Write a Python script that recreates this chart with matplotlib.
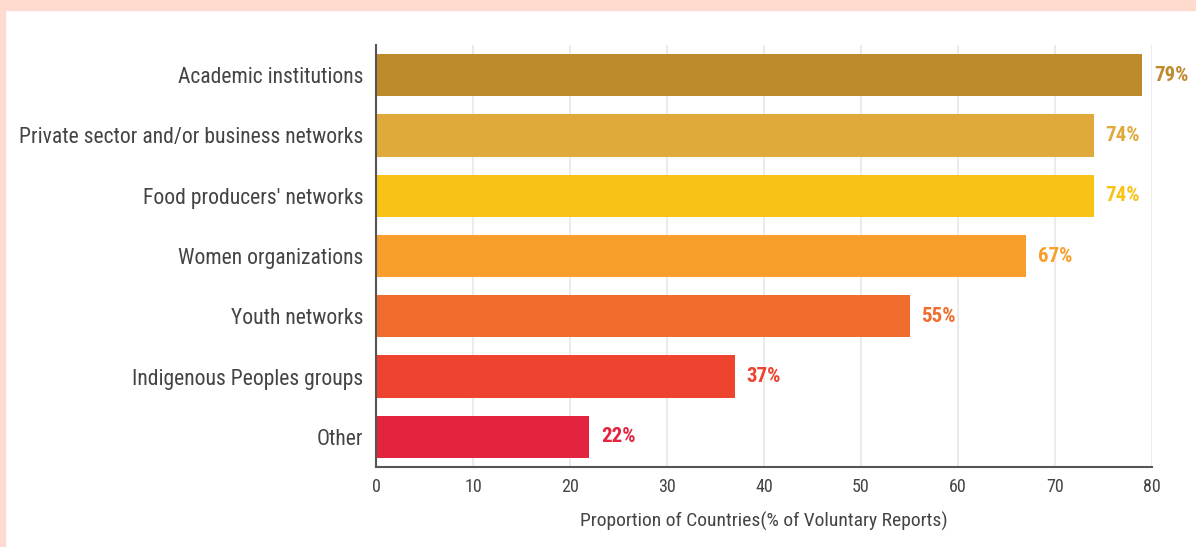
import matplotlib
matplotlib.use("Agg")
import matplotlib.pyplot as plt
from matplotlib.patches import Rectangle

categories = [
    "Academic institutions",
    "Private sector and/or business networks",
    "Food producers' networks",
    "Women organizations",
    "Youth networks",
    "Indigenous Peoples groups",
    "Other",
]
values = [79, 74, 74, 67, 55, 37, 22]
colors = ["#BE8B2C", "#E0A93C", "#F9C216", "#F89E2A", "#F06C2E", "#EE432E", "#E3243F"]
xticks = [0, 10, 20, 30, 40, 50, 60, 70, 80]

plt.rcParams["font.family"] = ["Roboto Condensed", "DejaVu Sans"]

fig = plt.figure(figsize=(11.96, 5.47), dpi=100)
fig.patch.set_facecolor("white")
# peach frame along the top and left edges
fig.patches.append(Rectangle((0, 1 - 10 / 547), 1, 10 / 547, transform=fig.transFigure,
                             color="#FFDBCF", zorder=0))
fig.patches.append(Rectangle((0, 0), 5 / 1196, 1, transform=fig.transFigure,
                             color="#FFDBCF", zorder=0))

ax = fig.add_axes([376 / 1196, 1 - 467 / 547, 776 / 1196, 422 / 547])
y = range(len(categories))
ax.barh(y, values, height=0.7, color=colors, zorder=2)

for yi, v, c in zip(y, values, colors):
    ax.text(v + 1.2, yi, f"{v}%", va="center", ha="left", color=c,
            fontsize=15, fontweight="bold")

ax.set_xlim(0, 80)
ax.set_ylim(len(categories) - 0.5, -0.5)
ax.set_xticks(xticks)
ax.set_yticks(list(y))
ax.set_yticklabels(categories)
ax.tick_params(axis="y", length=0, pad=9, labelsize=15.6, labelcolor="#444444")
ax.tick_params(axis="x", length=0, pad=8, labelsize=13, labelcolor="#444444")
ax.grid(axis="x", color="#EBEBEB", linewidth=1.5, zorder=0)
ax.set_axisbelow(True)

for s in ["top", "right"]:
    ax.spines[s].set_visible(False)
for s in ["left", "bottom"]:
    ax.spines[s].set_color("#555555")
    ax.spines[s].set_linewidth(1.5)

ax.set_xlabel("Proportion of Countries(% of Voluntary Reports)", fontsize=14,
              color="#444444", labelpad=11)

fig.savefig("out.png", dpi=100)
